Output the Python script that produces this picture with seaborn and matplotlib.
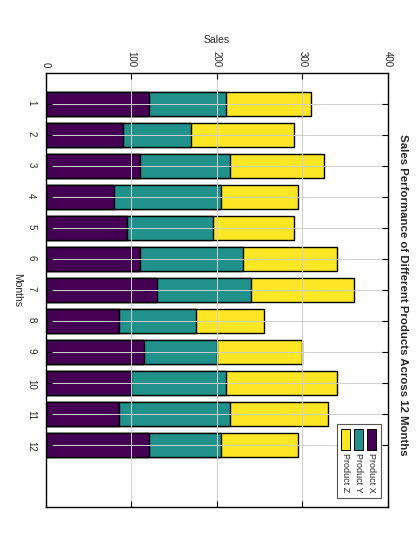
import seaborn as sns
import matplotlib
matplotlib.use('Agg')
import matplotlib.pyplot as plt
from matplotlib.patches import Rectangle

# Données
months = [1, 2, 3, 4, 5, 6, 7, 8, 9, 10, 11, 12]
product_x = [120, 90, 110, 80, 95, 110, 130, 85, 115, 100, 85, 120]
product_y = [90, 80, 105, 125, 100, 120, 110, 90, 85, 110, 130, 85]
product_z = [100, 120, 110, 90, 95, 110, 120, 80, 100, 130, 115, 90]
products = ['Product X', 'Product Y', 'Product Z']
colors = ['#440154', '#21918c', '#fde725']
sales_ticks = [0, 100, 200, 300, 400]

sns.set_theme(style='white')
plt.rcParams['font.family'] = ['Liberation Sans', 'DejaVu Sans']

fig = plt.figure(figsize=(4.2, 5.6), dpi=100)
ax = fig.add_axes([0.1095, 0.0946, 0.8143, 0.775])

# barres empilées : on dessine les cumuls du plus grand au plus petit
xy = [a + b for a, b in zip(product_x, product_y)]
total = [a + b for a, b in zip(xy, product_z)]
for vals, col in zip([total, xy, product_x], [colors[2], colors[1], colors[0]]):
    sns.barplot(x=vals, y=months, orient='h', native_scale=True, width=0.8,
                color=col, edgecolor='black', linewidth=1, saturation=1, ax=ax)

ax.set_xlim(0, 400)
ax.set_ylim(14, 0)
ax.set_xticks(sales_ticks)
ax.set_yticks(months)
ax.set_axisbelow(False)
ax.grid(True, color='#cfcfcf', linewidth=0.7)

ax.xaxis.tick_top()
ax.xaxis.set_label_position('top')
ax.tick_params(axis='both', direction='in', length=4, width=0.8, color='black',
               top=True, bottom=True, left=True, right=True, labelsize=7, pad=4)
ax.tick_params(axis='x', labelbottom=False, labeltop=True)
ax.tick_params(axis='y', pad=7)
for t in ax.get_xticklabels():
    t.set_rotation(-90)
for t in ax.get_yticklabels():
    t.set_rotation(-90)

ax.set_xlabel('Sales', fontsize=7.5, labelpad=6)
ax.set_ylabel('Months', fontsize=7.5, rotation=-90, va='bottom', labelpad=10)

for s in ax.spines.values():
    s.set_color('black')
    s.set_linewidth(1)
    s.set_zorder(10)

ax.text(1.043, 0.49, 'Sales Performance of Different Products Across 12 Months',
        transform=ax.transAxes, rotation=-90, ha='center', va='center',
        fontsize=8.2, fontweight='bold')

# légende tournée, dessinée à la main
ax.add_patch(Rectangle((0.852, 0.020), 0.128, 0.171, transform=ax.transAxes,
                       facecolor='white', edgecolor='#555555', linewidth=0.8,
                       zorder=5))
cols_x = [0.939, 0.901, 0.863]
for name, col, cx in zip(products, colors, cols_x):
    ax.add_patch(Rectangle((cx, 0.131), 0.026, 0.049, transform=ax.transAxes,
                           facecolor=col, edgecolor='black', linewidth=0.7,
                           zorder=6))
    ax.text(cx + 0.013, 0.124, name, transform=ax.transAxes, rotation=-90,
            ha='center', va='top', fontsize=6.5, zorder=6)

fig.savefig('out.png', dpi=100)
